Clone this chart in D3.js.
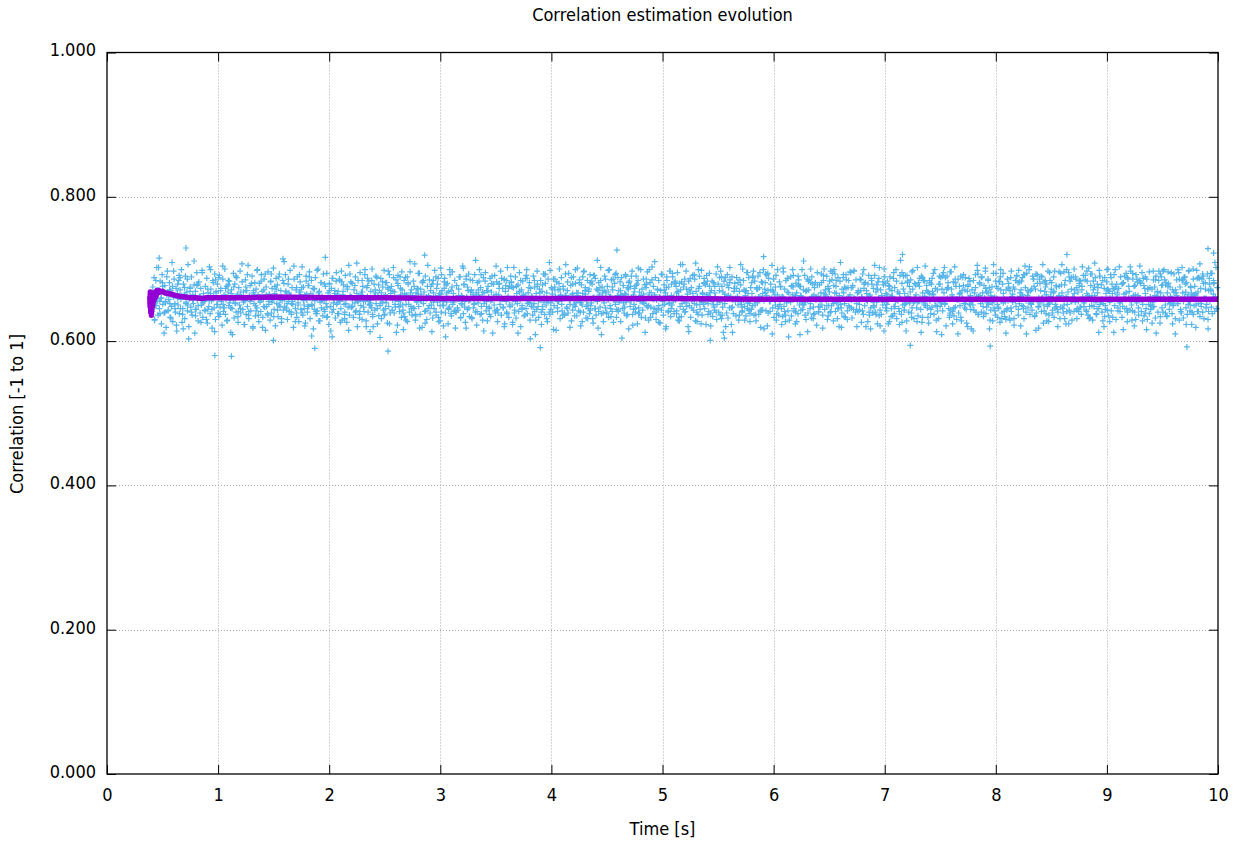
<!DOCTYPE html>
<html><head><meta charset="utf-8">
<script src="https://cdn.jsdelivr.net/npm/d3@7"></script>
<style>
body{margin:0;background:#fff}
text{font-family:"DejaVu Sans Condensed","DejaVu Sans",sans-serif;font-stretch:condensed;fill:#000}
</style>
</head><body><svg id="c" width="1241" height="843"></svg>
<script>
const title = "Correlation estimation evolution";
const xLabel = "Time [s]";
const yLabel = "Correlation [-1 to 1]";
const xTicks = [0,1,2,3,4,5,6,7,8,9,10];
const yTicks = [0,0.2,0.4,0.6,0.8,1.0];

// raw correlation samples (thousandths), channel A: evenly sampled from startA with stepA seconds
const startA = 0.4, stepA = 0.006;
const sampleValuesA = [
662,641,675,653,688,630,667,649,702,657,636,671,645,683,659,624,692,651,668,639,
677,655,619,664,697,642,658,681,633,670,648,709,627,661,686,652,640,673,614,666,
650,684,638,671,658,699,626,645,679,663,631,690,654,668,642,706,620,659,675,647,
689,636,664,652,678,611,669,644,695,657,628,682,661,639,673,650,698,633,666,655,
643,676,659,687,625,667,648,703,638,672,656,618,684,662,646,693,630,669,651,679,
660,634,691,647,673,655,622,686,641,664,700,637,658,676,629,668,649,683,657,612,
671,645,662,694,632,679,653,640,688,665,626,674,650,697,639,661,682,644,668,623,
656,685,637,670,648,705,631,663,677,642,659,690,620,667,652,681,635,672,646,699,
664,627,680,654,641,692,669,633,658,686,647,615,675,661,638,696,651,665,629,683,
639,673,657,701,644,666,621,687,652,678,634,660,693,648,670,626,656,684,643,710,
658,692,646,667,630,679,655,641,698,662,637,674,651,619,686,660,645,671,633,689,
653,627,668,682,644,661,703,636,675,650,664,625,690,657,640,677,648,696,631,666,
684,649,663,617,672,656,688,638,659,642,700,628,669,654,681,646,662,635,693,657,
641,676,652,694,634,667,623,680,661,648,673,606,687,644,658,670,632,683,651,665,
669,638,686,655,645,697,629,664,678,651,640,691,659,626,672,647,705,636,663,682,
647,680,660,633,671,653,689,642,666,620,684,657,637,695,649,668,630,676,655,641,
692,655,628,674,662,640,683,651,613,669,646,700,634,660,679,643,667,652,688,624,
661,635,670,649,687,631,658,675,643,698,637,664,653,681,625,672,648,692,639,666,
676,643,657,702,639,668,647,685,660,622,677,655,641,689,664,633,671,650,616,684,
634,688,651,664,627,679,659,640,696,648,671,636,662,683,645,707,629,667,654,673,
665,648,694,637,672,656,619,681,652,668,641,690,658,630,676,645,663,685,639,657,
650,679,632,667,645,698,661,636,673,654,687,627,666,649,701,640,670,655,621,682,
687,639,661,654,680,624,669,647,692,657,635,675,651,666,642,684,618,660,677,646,
643,672,658,689,633,663,650,704,638,679,655,626,686,661,644,670,693,634,657,668,
671,631,684,646,659,692,640,667,622,681,653,664,699,637,674,648,660,629,688,652,
656,695,642,670,628,676,661,645,687,634,668,657,611,679,650,691,639,665,682,644,
639,664,680,651,697,636,658,673,647,685,624,669,655,640,702,662,633,676,648,690,
682,650,626,674,660,643,689,632,666,652,678,641,695,657,620,671,646,683,663,635,
660,687,645,699,638,667,654,681,629,673,648,661,636,690,652,675,609,666,644,679,
648,633,672,657,684,623,669,644,693,661,637,680,650,667,627,686,656,640,698,653,
674,658,640,686,649,675,662,615,682,646,671,655,700,631,663,688,642,659,672,636,
636,693,663,647,670,639,694,657,651,677,628,664,643,689,658,635,680,653,667,701,
667,642,685,654,621,678,650,666,640,697,659,674,632,656,684,645,669,638,692,649,
653,679,631,691,660,645,687,636,672,655,618,681,664,647,702,638,675,659,627,670,
690,646,668,638,676,657,633,699,649,662,685,641,671,626,658,680,651,694,644,663,
641,670,656,682,627,688,663,645,677,639,666,692,654,635,674,660,617,683,648,676,
659,697,637,664,651,673,640,690,658,624,684,646,668,655,699,633,672,643,686,652,
678,632,674,649,696,661,629,667,681,647,660,703,638,676,645,664,688,630,657,671,
645,684,661,625,670,643,692,655,636,678,651,667,620,689,662,640,675,653,697,634,
663,650,689,656,638,681,657,676,642,695,629,662,680,648,671,634,660,706,644,679,
686,641,653,672,665,620,683,649,668,633,674,656,691,643,659,686,628,669,650,662,
637,673,690,644,657,698,636,665,651,687,645,678,623,664,683,652,641,694,667,639,
670,655,634,681,647,667,661,693,630,658,679,640,670,654,697,631,676,647,612,683,
652,688,660,639,692,632,674,646,685,662,623,689,657,638,669,680,655,635,673,660,
681,629,669,655,678,651,640,700,657,671,648,663,635,695,645,666,688,652,627,674,
644,666,649,697,636,683,659,628,672,653,690,637,674,661,619,682,660,643,699,656,
672,693,642,663,621,670,687,655,641,679,659,705,646,668,633,657,675,691,638,664,
658,636,682,651,675,645,662,634,696,648,672,627,684,653,687,642,667,629,658,689,
635,677,664,691,642,659,624,680,667,656,638,685,650,609,676,662,699,644,671,650,
691,654,630,670,686,639,671,658,645,700,632,662,679,647,664,638,681,657,622,678,
662,641,678,647,660,693,650,636,684,666,644,671,657,690,630,676,649,668,640,697,
649,685,655,628,699,667,641,676,653,631,688,646,663,683,651,619,672,659,692,634,
675,633,692,659,642,674,684,647,664,695,657,632,677,644,698,658,640,685,652,667,
641,668,651,686,670,626,661,693,637,673,649,681,620,666,655,679,691,636,664,646,
687,657,639,673,649,691,640,668,654,624,682,660,702,643,671,637,663,650,678,614,
654,680,666,642,683,655,677,627,689,661,645,670,635,687,648,674,656,699,631,668,
668,645,623,691,659,637,695,650,672,643,666,691,652,628,681,662,640,676,655,685,
639,696,672,653,631,680,658,664,646,702,635,655,676,660,644,690,626,667,684,650,
683,650,659,677,646,668,625,684,656,638,679,647,664,694,637,657,673,649,613,671,
657,631,690,648,688,653,672,642,695,667,651,688,621,672,659,681,645,633,696,643,
672,664,641,682,635,703,647,676,630,658,686,639,665,649,690,628,670,658,677,652,
646,688,657,625,669,678,660,651,683,644,617,671,655,684,643,667,692,640,661,698,
693,637,681,663,652,640,689,667,634,677,660,697,638,668,653,686,651,674,629,663,
660,675,628,694,646,661,636,694,659,651,673,645,682,626,699,656,639,679,666,641,
634,655,671,643,686,656,680,632,670,688,641,662,654,675,631,672,684,648,690,659,
681,698,652,667,621,683,649,664,645,631,692,674,640,694,663,646,657,703,637,670,
651,643,690,656,676,635,672,693,657,680,648,618,686,653,670,641,689,660,625,682,
669,684,638,679,648,697,627,653,684,662,672,655,643,667,633,697,651,677,658,644,
640,662,676,631,694,659,667,645,639,696,631,684,662,699,655,668,624,643,683,656,
688,629,660,689,641,671,654,686,674,645,668,641,677,647,683,637,676,661,691,648,
655,691,643,666,683,636,701,662,633,677,657,693,629,671,648,663,688,654,637,679,
674,645,698,651,657,678,640,684,652,620,688,649,666,682,643,700,635,669,660,692,
642,679,633,673,692,649,675,630,679,664,646,673,655,641,689,657,679,648,616,665,
690,658,667,645,627,686,660,669,643,697,659,629,694,663,676,640,664,692,653,682,
663,636,684,659,680,641,695,657,687,635,673,666,645,686,630,673,651,638,674,644,
648,672,654,697,648,675,632,690,661,669,640,684,659,625,667,689,646,678,661,699,
685,650,681,634,667,696,655,644,675,653,695,638,671,650,693,657,631,667,685,652,
652,695,629,675,658,639,684,667,632,688,661,679,646,681,637,664,697,655,642,676,
667,640,662,686,649,676,663,650,698,641,668,652,687,634,673,648,686,640,690,659,
659,681,646,655,693,630,670,687,656,672,647,694,658,665,680,641,661,702,645,674
];

// channel B samples (thousandths), evenly sampled from startB with stepB seconds
const startB = 0.403, stepB = 0.0123;
const sampleValuesB = [
648,667,629,684,655,702,638,660,676,611,653,689,643,671,632,664,697,650,622,679,
691,645,663,617,674,652,686,603,669,640,658,711,635,677,649,662,626,695,657,642,
630,672,656,699,644,681,613,667,651,688,637,659,704,646,673,628,684,653,666,609,
675,652,688,634,661,645,707,658,623,670,692,641,655,680,618,664,649,698,636,661,
657,619,671,693,648,636,665,682,654,601,676,661,643,689,657,631,714,647,669,652,
686,663,640,655,704,627,674,650,692,668,639,656,621,683,648,677,660,607,673,644,
641,698,667,628,681,659,644,716,633,662,679,614,687,653,666,695,638,658,626,682,
669,637,652,676,615,693,661,648,671,640,708,655,632,664,684,647,699,620,677,656,
653,684,620,662,690,645,678,605,667,654,636,681,659,697,624,670,643,688,651,612,
680,648,673,696,639,666,629,689,651,710,645,663,676,637,655,694,618,665,682,659,
625,661,705,649,670,613,684,657,640,679,663,628,692,650,673,606,667,645,699,638,
696,654,641,677,658,689,632,662,701,647,618,675,656,685,633,664,652,712,641,671,
660,692,668,614,683,648,670,637,656,690,661,642,704,627,679,658,687,646,620,677,
638,673,650,681,623,702,655,676,611,668,684,649,665,636,691,652,674,603,662,647,
684,629,697,656,667,640,678,654,693,631,657,709,644,672,616,686,658,641,680,664,
651,676,637,706,645,660,619,688,666,650,699,635,663,681,653,627,696,670,648,631,
672,643,683,625,691,658,712,641,674,609,667,653,686,640,698,661,634,675,657,692,
633,688,654,670,604,677,647,665,637,681,656,690,622,668,645,679,701,639,663,654,
665,612,679,647,699,633,685,658,710,644,672,626,660,693,650,671,617,684,642,697,
645,694,661,683,638,669,628,706,652,675,640,697,659,613,687,646,666,652,708,627,
699,651,624,667,680,654,691,637,662,621,683,650,676,640,703,657,636,689,668,604,
620,678,663,702,646,612,673,659,688,650,636,706,647,684,629,670,695,643,656,681,
688,656,637,674,661,695,643,681,617,667,692,639,658,671,610,686,664,629,699,648,
658,623,701,641,684,668,606,657,676,699,645,663,627,690,676,643,653,711,636,670,
613,685,652,689,631,674,660,695,640,655,681,618,700,664,649,635,683,659,694,677,
693,666,645,620,709,639,688,652,673,630,661,696,646,675,697,658,620,670,643,685,
642,699,681,657,627,662,617,679,654,705,637,672,687,621,657,682,700,646,664,624,
676,634,662,695,648,683,656,641,712,626,690,651,614,683,640,668,633,698,655,678,
627,681,656,612,688,653,704,670,633,666,644,687,665,699,629,648,679,657,609,691,
702,657,690,674,636,696,624,646,681,658,610,676,633,660,692,671,644,620,687,650,
655,614,667,640,705,662,679,688,657,639,701,647,684,617,668,653,706,642,676,633,
683,689,631,694,658,611,645,673,629,697,665,622,656,691,636,682,662,688,648,704,
610,670,699,652,672,686,634,615,692,647,680,659,706,642,675,628,651,695,668,639,
689,646,675,620,696,647,706,660,678,624,651,695,639,672,661,700,689,631,655,684,
647,703,653,685,641,663,631,693,649,683,708,638,667,612,690,656,628,673,644,699,
671,627,688,666,612,699,658,642,703,655,633,681,658,694,640,676,703,650,686,621,
630,686,646,704,657,628,677,689,616,672,696,649,625,685,663,611,668,697,634,677,
697,659,678,635,680,652,694,624,668,610,663,699,686,641,702,655,689,623,661,698,
650,623,700,664,619,687,641,707,655,693,631,672,651,617,679,694,638,681,709,645
];

// channel C samples (thousandths), evenly sampled from startC with stepC seconds
const startC = 0.407, stepC = 0.0228;
const sampleValuesC = [
662,649,671,655,681,640,667,652,676,645,659,688,637,664,650,673,657,644,679,661,
653,676,644,666,658,685,639,670,651,662,678,646,657,690,641,668,654,675,636,660,
670,642,659,683,648,664,655,693,634,672,650,661,680,643,667,652,686,639,663,674,
645,665,689,651,673,638,662,656,679,647,670,640,666,653,684,660,631,675,648,658,
677,655,641,668,660,687,649,637,671,663,652,682,645,674,639,669,658,691,650,643,
659,681,667,646,635,672,657,684,642,661,676,654,689,633,665,649,678,644,670,656,
640,663,652,678,690,646,670,651,664,683,638,667,655,647,680,662,643,673,659,686,
684,650,675,639,658,669,644,662,687,653,661,641,676,667,648,692,656,637,665,671,
655,672,636,663,682,651,679,648,658,640,689,665,650,681,660,645,670,684,639,662,
668,645,686,657,643,664,653,690,672,656,644,677,638,663,654,686,649,667,658,640,
649,693,660,674,652,679,641,667,633,682,658,648,671,657,692,640,676,655,681,664,
676,658,643,651,688,636,665,659,681,647,673,662,685,642,669,653,638,690,650,672,
642,666,681,694,655,670,650,645,676,661,636,687,654,675,640,678,663,651,669,683,
681,637,659,648,667,691,662,673,641,652,684,657,646,667,685,649,674,660,644,656,
661,679,670,640,684,647,678,635,663,689,651,672,662,638,657,666,680,643,691,653,
646,660,654,687,633,662,649,681,669,655,642,679,690,652,674,639,661,686,657,667,
688,652,676,663,650,674,637,660,648,673,667,643,658,683,647,671,653,630,675,646,
657,684,644,671,692,656,668,653,686,639,660,690,650,664,636,681,669,648,663,678,
650,641,689,655,666,643,680,671,656,697,648,663,675,645,690,658,634,672,654,666,
672,667,653,680,645,688,656,642,677,660,682,651,639,673,661,647,685,662,693,640,
639,676,662,649,671,659,644,685,668,651,674,637,666,688,652,680,659,641,670,684
];

// isolated far points read individually
const outlierTimes  = [0.47, 0.71, 0.97, 1.12, 1.87, 2.53, 2.86, 3.90, 4.59, 5.43, 5.91, 7.16, 7.23, 7.95, 8.64, 9.72, 9.91, 9.96];
const outlierValues = [0.715,0.729,0.580,0.579,0.590,0.586,0.719,0.591,0.726,0.601,0.717,0.720,0.594,0.593,0.720,0.592,0.728,0.722];

// running correlation estimate
const estTimes  = [0.385,0.388,0.390,0.392,0.394,0.396,0.398,0.400,0.403,0.406,0.409,0.412,0.416,0.420,0.425,0.430,0.436,0.442,0.450,0.460,0.470,0.480,0.500,0.520,0.550,0.580,0.620,0.660,0.700,0.750,0.800,0.850,0.900,1.000,1.200,1.500,2.000,2.500,3.000,3.500,4.000,5.000,6.000,7.000,8.000,9.000,10.00];
const estValues = [0.662,0.648,0.668,0.655,0.640,0.664,0.652,0.636,0.660,0.645,0.666,0.650,0.663,0.655,0.667,0.659,0.668,0.662,0.670,0.667,0.670,0.668,0.669,0.667,0.666,0.665,0.663,0.662,0.661,0.660,0.660,0.659,0.660,0.660,0.660,0.661,0.660,0.660,0.659,0.659,0.659,0.659,0.658,0.658,0.658,0.658,0.658];

const svg = d3.select("#c");
const L = 107, R = 1218, T = 52.5, B = 774;
const x = d3.scaleLinear().domain([0,10]).range([L,R]);
const y = d3.scaleLinear().domain([0,1]).range([B,T]);

// grid
const g = svg.append("g").attr("stroke","#a8a8a8").attr("stroke-width",1).attr("stroke-dasharray","1,2");
g.selectAll(".vx").data(xTicks.slice(1,-1)).join("line")
  .attr("x1",d=>Math.round(x(d))+0.5).attr("x2",d=>Math.round(x(d))+0.5).attr("y1",T).attr("y2",B);
g.selectAll(".hy").data(yTicks.slice(1,-1)).join("line")
  .attr("y1",d=>Math.round(y(d))+0.5).attr("y2",d=>Math.round(y(d))+0.5).attr("x1",L).attr("x2",R);

// scatter
const pts = sampleValuesA.map((v,i)=>[startA+i*stepA, v/1000])
  .concat(sampleValuesB.map((v,i)=>[startB+i*stepB, v/1000]))
  .concat(sampleValuesC.map((v,i)=>[startC+i*stepC, v/1000]))
  .concat(outlierTimes.map((t,i)=>[t,outlierValues[i]]));
const s = 3;
const pathStr = pts.map(([t,v])=>{
  const px = x(t), py = y(v);
  return `M${(px-s).toFixed(1)},${py.toFixed(1)}h${2*s}M${px.toFixed(1)},${(py-s).toFixed(1)}v${2*s}`;
}).join("");
svg.append("path").attr("d",pathStr).attr("stroke","#56b4e9").attr("stroke-width",1.2).attr("fill","none");

// estimate line
const line = d3.line().x(d=>x(d[0])).y(d=>y(d[1]));
svg.append("path").datum(estTimes.map((t,i)=>[t,estValues[i]]))
  .attr("d",line).attr("fill","none").attr("stroke","#9400d3").attr("stroke-width",5.5)
  .attr("stroke-linejoin","round");

// axes
const fmt = d3.format(".3f");
const ax = svg.append("g").attr("transform",`translate(0,${B})`)
  .call(d3.axisBottom(x).tickValues(xTicks).tickSizeInner(-9).tickSizeOuter(0).tickPadding(14).tickFormat(d3.format("d")));
const ay = svg.append("g").attr("transform",`translate(${L},0)`)
  .call(d3.axisLeft(y).tickValues(yTicks).tickSizeInner(-9).tickSizeOuter(0).tickPadding(11).tickFormat(fmt));
const at = svg.append("g").attr("transform",`translate(0,${T})`)
  .call(d3.axisTop(x).tickValues(xTicks).tickSizeInner(-9).tickSizeOuter(0).tickFormat(""));
const ar = svg.append("g").attr("transform",`translate(${R},0)`)
  .call(d3.axisRight(y).tickValues(yTicks).tickSizeInner(-9).tickSizeOuter(0).tickFormat(""));
[ax,ay,at,ar].forEach(a=>{ a.select(".domain").remove(); a.selectAll("line").attr("stroke","#000");
  a.selectAll("text").attr("font-size",18).attr("font-family",null); });
ay.selectAll("text").attr("dy","0.19em");

svg.append("rect").attr("x",L).attr("y",T).attr("width",R-L).attr("height",B-T)
  .attr("fill","none").attr("stroke","#000").attr("stroke-width",1.3);

svg.append("text").attr("x",(L+R)/2).attr("y",21).attr("text-anchor","middle").attr("font-size",18).text(title);
svg.append("text").attr("x",(L+R)/2).attr("y",835).attr("text-anchor","middle").attr("font-size",18).text(xLabel);
svg.append("text").attr("transform","translate(23,414) rotate(-90)").attr("text-anchor","middle").attr("font-size",18).text(yLabel);
</script></body></html>
